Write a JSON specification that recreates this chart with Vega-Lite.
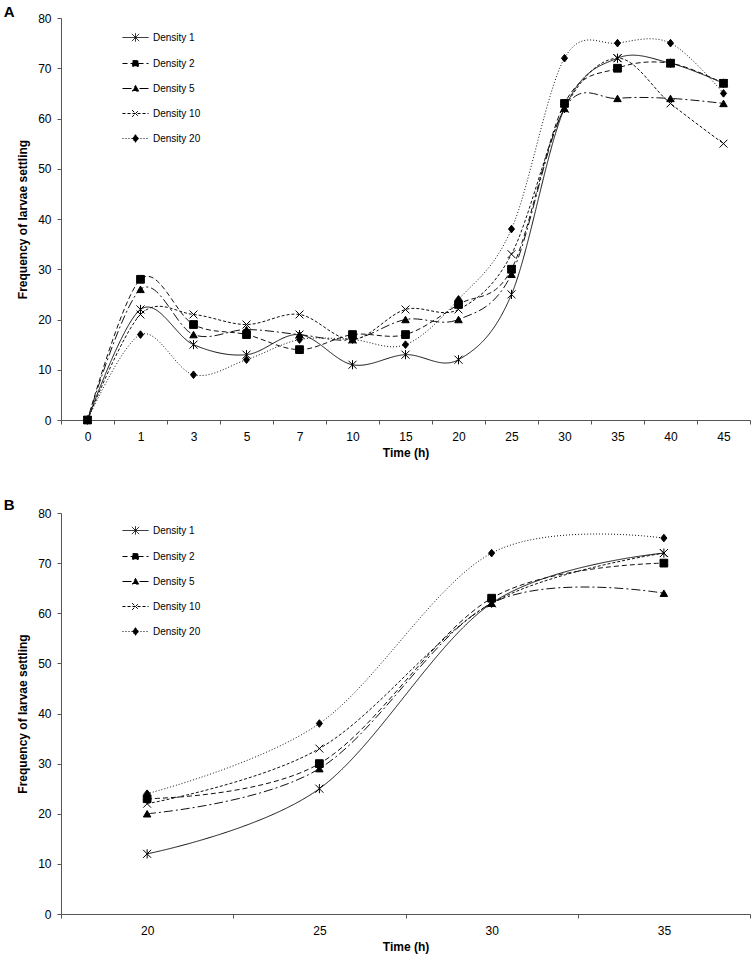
{
  "$schema": "https://vega.github.io/schema/vega-lite/v6.json",
  "background": "white",
  "padding": {"left": 3, "top": 5, "right": 4, "bottom": 2},
  "spacing": 40,
  "resolve": {"scale": {"strokeDash": "independent", "shape": "independent", "size": "independent"}, "legend": {"strokeDash": "independent"}},
  "config": {
    "font": "Liberation Sans",
    "view": {"stroke": null},
    "axis": {
      "domainColor": "#555555",
      "tickColor": "#555555",
      "tickSize": 4,
      "labelFont": "Liberation Sans",
      "labelFontSize": 12,
      "labelColor": "#000000",
      "titleFont": "Liberation Sans",
      "titleFontSize": 12,
      "titleFontWeight": "bold",
      "titleColor": "#000000",
      "grid": false
    },
    "axisX": {"labelPadding": 7, "titlePadding": 5, "labelAngle": 0, "tickBand": "extent"},
    "axisY": {"labelPadding": 6, "titlePadding": 8},
    "title": {"font": "Liberation Sans", "fontSize": 15, "fontWeight": "bold", "color": "#000000", "anchor": "start", "offset": 0, "baseline": "alphabetic"}
  },
  "datasets": {
    "main": [
      {"series": "Density 1", "time": 0, "value": 0},
      {"series": "Density 1", "time": 1, "value": 22},
      {"series": "Density 1", "time": 3, "value": 15},
      {"series": "Density 1", "time": 5, "value": 13},
      {"series": "Density 1", "time": 7, "value": 17},
      {"series": "Density 1", "time": 10, "value": 11},
      {"series": "Density 1", "time": 15, "value": 13},
      {"series": "Density 1", "time": 20, "value": 12},
      {"series": "Density 1", "time": 25, "value": 25},
      {"series": "Density 1", "time": 30, "value": 62},
      {"series": "Density 1", "time": 35, "value": 72},
      {"series": "Density 1", "time": 40, "value": 71},
      {"series": "Density 1", "time": 45, "value": 67},
      {"series": "Density 2", "time": 0, "value": 0},
      {"series": "Density 2", "time": 1, "value": 28},
      {"series": "Density 2", "time": 3, "value": 19},
      {"series": "Density 2", "time": 5, "value": 17},
      {"series": "Density 2", "time": 7, "value": 14},
      {"series": "Density 2", "time": 10, "value": 17},
      {"series": "Density 2", "time": 15, "value": 17},
      {"series": "Density 2", "time": 20, "value": 23},
      {"series": "Density 2", "time": 25, "value": 30},
      {"series": "Density 2", "time": 30, "value": 63},
      {"series": "Density 2", "time": 35, "value": 70},
      {"series": "Density 2", "time": 40, "value": 71},
      {"series": "Density 2", "time": 45, "value": 67},
      {"series": "Density 5", "time": 0, "value": 0},
      {"series": "Density 5", "time": 1, "value": 26},
      {"series": "Density 5", "time": 3, "value": 17},
      {"series": "Density 5", "time": 5, "value": 18},
      {"series": "Density 5", "time": 7, "value": 17},
      {"series": "Density 5", "time": 10, "value": 16},
      {"series": "Density 5", "time": 15, "value": 20},
      {"series": "Density 5", "time": 20, "value": 20},
      {"series": "Density 5", "time": 25, "value": 29},
      {"series": "Density 5", "time": 30, "value": 62},
      {"series": "Density 5", "time": 35, "value": 64},
      {"series": "Density 5", "time": 40, "value": 64},
      {"series": "Density 5", "time": 45, "value": 63},
      {"series": "Density 10", "time": 0, "value": 0},
      {"series": "Density 10", "time": 1, "value": 21},
      {"series": "Density 10", "time": 3, "value": 21},
      {"series": "Density 10", "time": 5, "value": 19},
      {"series": "Density 10", "time": 7, "value": 21},
      {"series": "Density 10", "time": 10, "value": 16},
      {"series": "Density 10", "time": 15, "value": 22},
      {"series": "Density 10", "time": 20, "value": 22},
      {"series": "Density 10", "time": 25, "value": 33},
      {"series": "Density 10", "time": 30, "value": 62},
      {"series": "Density 10", "time": 35, "value": 72},
      {"series": "Density 10", "time": 40, "value": 63},
      {"series": "Density 10", "time": 45, "value": 55},
      {"series": "Density 20", "time": 0, "value": 0},
      {"series": "Density 20", "time": 1, "value": 17},
      {"series": "Density 20", "time": 3, "value": 9},
      {"series": "Density 20", "time": 5, "value": 12},
      {"series": "Density 20", "time": 7, "value": 16},
      {"series": "Density 20", "time": 10, "value": 16},
      {"series": "Density 20", "time": 15, "value": 15},
      {"series": "Density 20", "time": 20, "value": 24},
      {"series": "Density 20", "time": 25, "value": 38},
      {"series": "Density 20", "time": 30, "value": 72},
      {"series": "Density 20", "time": 35, "value": 75},
      {"series": "Density 20", "time": 40, "value": 75},
      {"series": "Density 20", "time": 45, "value": 65}
    ]
  },
  "vconcat": [
    {
      "title": {"text": "A", "dx": -13, "dy": 12},
      "width": 689,
      "height": 402,
      "data": {"name": "main"},
      "layer": [
        {
          "mark": {"type": "line", "interpolate": "cardinal", "tension": 0, "strokeWidth": 1, "color": "#111111"},
          "encoding": {
            "x": {"field": "time", "type": "ordinal", "bandPosition": 0.5, "scale": {"type": "band", "paddingInner": 0, "paddingOuter": 0}, "axis": {"title": "Time (h)"}},
            "y": {"field": "value", "type": "quantitative", "scale": {"domain": [0, 80], "nice": false}, "axis": {"values": [0, 10, 20, 30, 40, 50, 60, 70, 80], "title": "Frequency of larvae settling"}},
            "strokeDash": {
              "field": "series", "type": "nominal",
              "scale": {"domain": ["Density 1", "Density 2", "Density 5", "Density 10", "Density 20"], "range": [[1, 0], [5, 3], [9, 3, 2, 3], [3, 2], [1, 2]]},
              "legend": {
                "title": null, "orient": "none", "legendX": 61, "legendY": 6, "padding": 0,
                "labelFont": "Liberation Sans", "labelFontSize": 10, "labelColor": "#000000", "labelOffset": 4,
                "symbolSize": 676, "symbolStrokeWidth": 1, "symbolStrokeColor": "#000000", "rowPadding": 6,
                "encode": {
                  "symbols": {
                    "update": {
                      "shape": {"signal": "datum.value === 'Density 1' ? 'M-1,0L1,0M-0.28,-0.28L0.28,0.28M-0.28,0.28L0.28,-0.28M0,-0.32L0,0.32' : datum.value === 'Density 2' ? 'M-1,0L1,0M-0.22,-0.22L0.22,-0.22L0.22,0.22L-0.22,0.22Z' : datum.value === 'Density 5' ? 'M-1,0L1,0M0,-0.24L0.24,0.2L-0.24,0.2Z' : datum.value === 'Density 10' ? 'M-1,0L1,0M-0.26,-0.26L0.26,0.26M-0.26,0.26L0.26,-0.26' : 'M-1,0L1,0M0,-0.3L0.24,0L0,0.3L-0.24,0Z'"},
                      "fill": {"value": "#000000"},
                      "stroke": {"value": "#000000"}
                    }
                  }
                }
              }
            }
          }
        },
        {
          "mark": {"type": "point", "filled": true, "fill": "#000000", "stroke": "#000000", "strokeWidth": 1, "opacity": 1},
          "encoding": {
            "x": {"field": "time", "type": "ordinal", "bandPosition": 0.5},
            "y": {"field": "value", "type": "quantitative"},
            "shape": {"field": "series", "type": "nominal", "scale": {"domain": ["Density 1", "Density 10", "Density 2", "Density 20", "Density 5"], "range": ["M-1,-1L1,1M-1,1L1,-1M0,-1.15L0,1.15", "M-1,-1L1,1M-1,1L1,-1", "square", "M0,-1L0.8,0L0,1L-0.8,0Z", "triangle-up"]}, "legend": null},
            "size": {"field": "series", "type": "nominal", "scale": {"domain": ["Density 1", "Density 10", "Density 2", "Density 20", "Density 5"], "range": [64, 56, 25, 90, 30]}, "legend": null}
          }
        }
      ]
    },
    {
      "title": {"text": "B", "dx": -13, "dy": 10},
      "width": 689,
      "height": 401,
      "data": {"name": "main"},
      "transform": [{"filter": "datum.time >= 20 && datum.time <= 35"}],
      "layer": [
        {
          "mark": {"type": "line", "interpolate": "cardinal", "tension": 0, "strokeWidth": 1, "color": "#111111"},
          "encoding": {
            "x": {"field": "time", "type": "ordinal", "bandPosition": 0.5, "scale": {"type": "band", "paddingInner": 0, "paddingOuter": 0}, "axis": {"title": "Time (h)"}},
            "y": {"field": "value", "type": "quantitative", "scale": {"domain": [0, 80], "nice": false}, "axis": {"values": [0, 10, 20, 30, 40, 50, 60, 70, 80], "title": "Frequency of larvae settling"}},
            "strokeDash": {
              "field": "series", "type": "nominal",
              "scale": {"domain": ["Density 1", "Density 2", "Density 5", "Density 10", "Density 20"], "range": [[1, 0], [5, 3], [9, 3, 2, 3], [3, 2], [1, 2]]},
              "legend": {
                "title": null, "orient": "none", "legendX": 61, "legendY": 4, "padding": 0,
                "labelFont": "Liberation Sans", "labelFontSize": 10, "labelColor": "#000000", "labelOffset": 4,
                "symbolSize": 676, "symbolStrokeWidth": 1, "symbolStrokeColor": "#000000", "rowPadding": 6,
                "encode": {
                  "symbols": {
                    "update": {
                      "shape": {"signal": "datum.value === 'Density 1' ? 'M-1,0L1,0M-0.28,-0.28L0.28,0.28M-0.28,0.28L0.28,-0.28M0,-0.32L0,0.32' : datum.value === 'Density 2' ? 'M-1,0L1,0M-0.22,-0.22L0.22,-0.22L0.22,0.22L-0.22,0.22Z' : datum.value === 'Density 5' ? 'M-1,0L1,0M0,-0.24L0.24,0.2L-0.24,0.2Z' : datum.value === 'Density 10' ? 'M-1,0L1,0M-0.26,-0.26L0.26,0.26M-0.26,0.26L0.26,-0.26' : 'M-1,0L1,0M0,-0.3L0.24,0L0,0.3L-0.24,0Z'"},
                      "fill": {"value": "#000000"},
                      "stroke": {"value": "#000000"}
                    }
                  }
                }
              }
            }
          }
        },
        {
          "mark": {"type": "point", "filled": true, "fill": "#000000", "stroke": "#000000", "strokeWidth": 1, "opacity": 1},
          "encoding": {
            "x": {"field": "time", "type": "ordinal", "bandPosition": 0.5},
            "y": {"field": "value", "type": "quantitative"},
            "shape": {"field": "series", "type": "nominal", "scale": {"domain": ["Density 1", "Density 10", "Density 2", "Density 20", "Density 5"], "range": ["M-1,-1L1,1M-1,1L1,-1M0,-1.15L0,1.15", "M-1,-1L1,1M-1,1L1,-1", "square", "M0,-1L0.8,0L0,1L-0.8,0Z", "triangle-up"]}, "legend": null},
            "size": {"field": "series", "type": "nominal", "scale": {"domain": ["Density 1", "Density 10", "Density 2", "Density 20", "Density 5"], "range": [64, 56, 25, 90, 30]}, "legend": null}
          }
        }
      ]
    }
  ]
}
